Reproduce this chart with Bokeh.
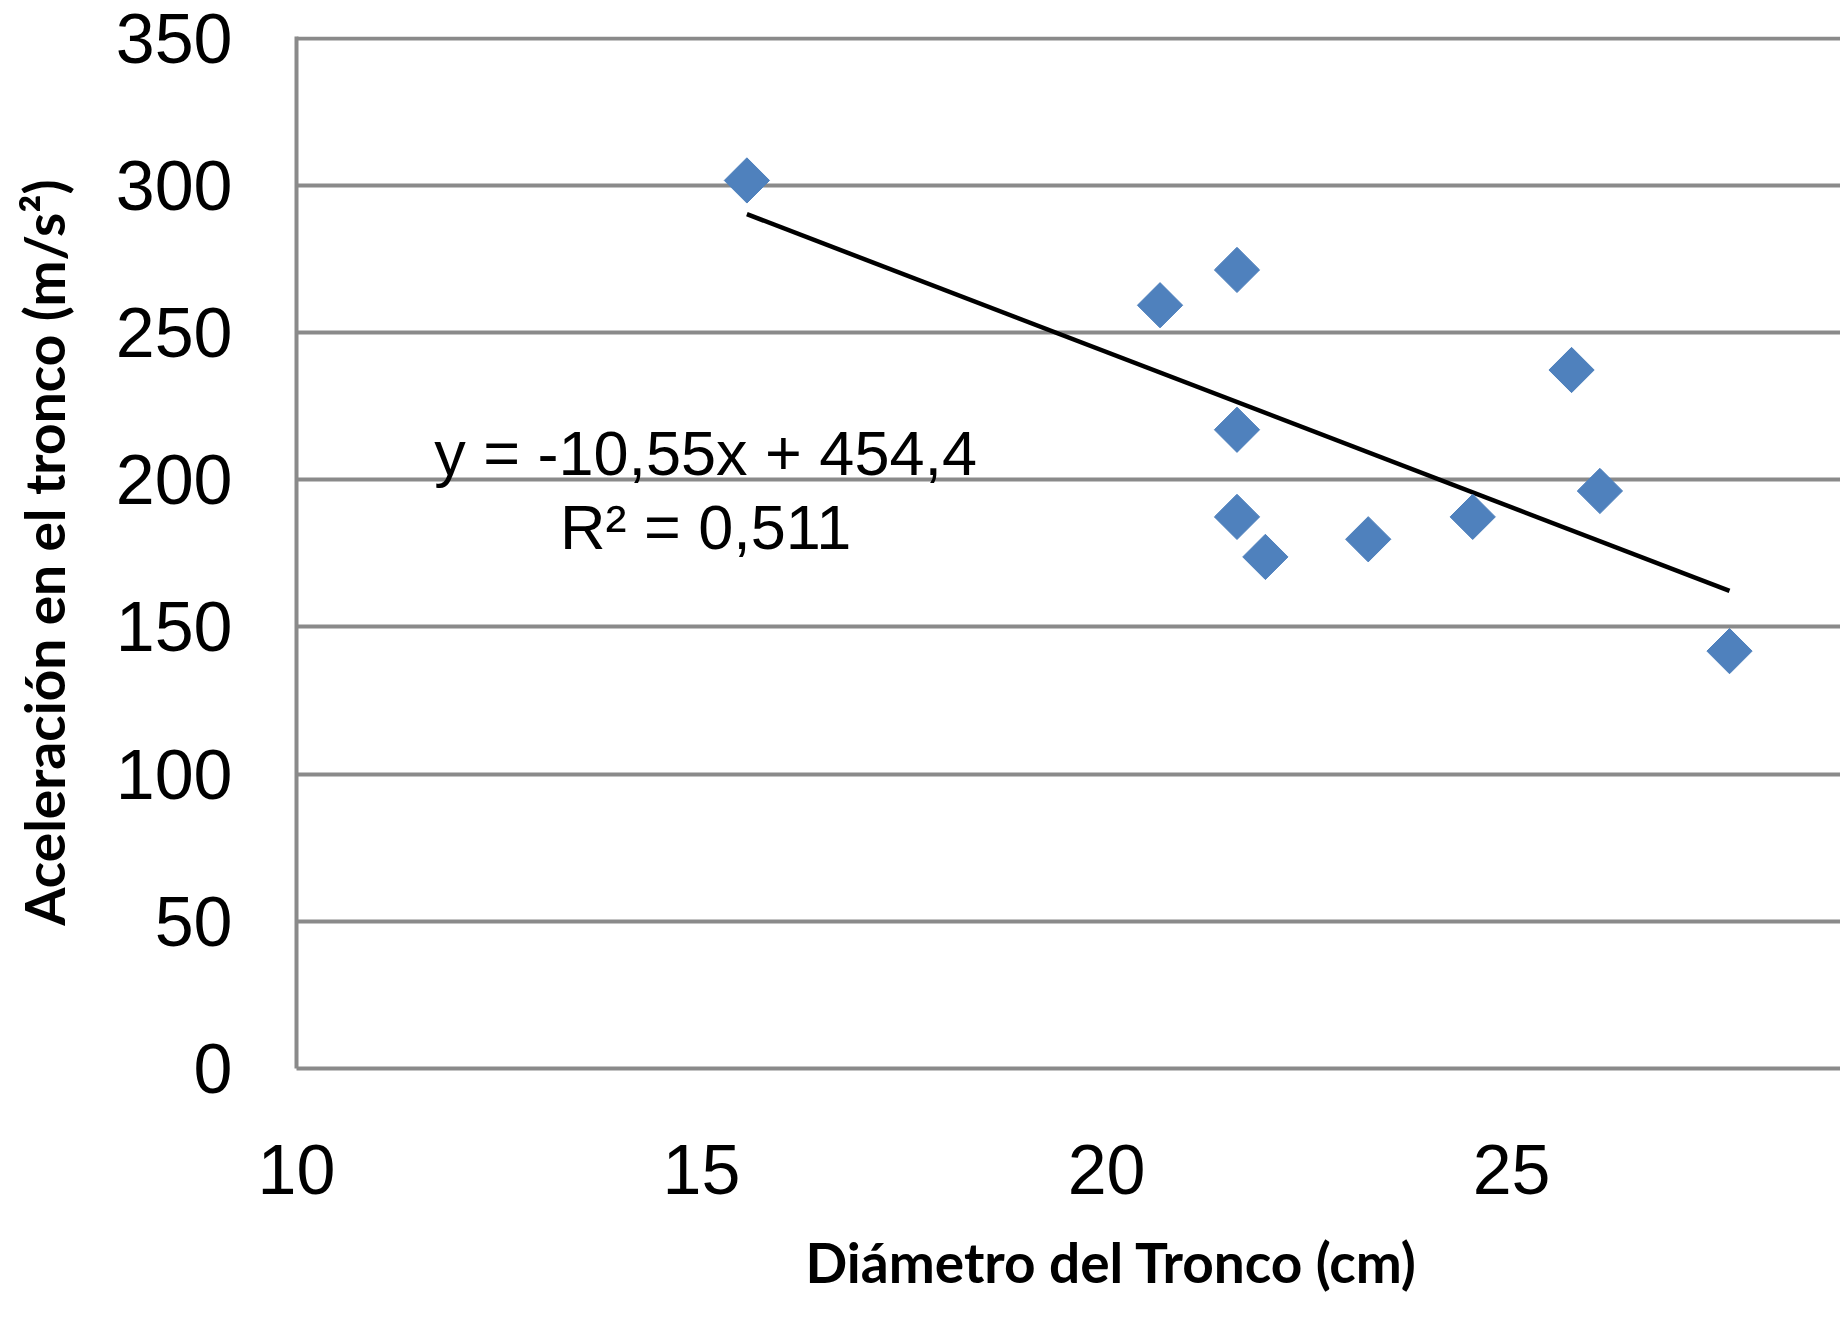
import numpy as np
from bokeh.plotting import figure
from bokeh.models import Range1d, FixedTicker, ColumnDataSource, Title
from bokeh.core.properties import value
from bokeh.embed import file_html
from bokeh.resources import INLINE

# Data
diametro = [15.56, 20.66, 21.61, 21.61, 21.61, 21.96, 23.23, 24.52, 25.74, 26.09, 27.69]
aceleracion = [301.7, 259.3, 271.3, 217.0, 187.4, 173.8, 179.8, 187.4, 237.3, 196.2, 141.8]
pendiente = -10.55
intercepto = 454.4
r2 = 0.511
x_ticks = [10, 15, 20, 25]
y_ticks = [0, 50, 100, 150, 200, 250, 300, 350]
eq_lines = ["y = -10,55x + 454,4", "R² = 0,511"]
x_title = "Diámetro del Tronco (cm)"
y_title = "Aceleración en el tronco (m/s²)"

p = figure(width=1840, height=1324, output_backend="svg", toolbar_location=None,
           x_range=Range1d(10, 29.06), y_range=Range1d(0, 350.6),
           min_border_left=296, min_border_right=0, min_border_top=36, min_border_bottom=254)
p.outline_line_color = None
p.background_fill_color = "white"
p.border_fill_color = "white"

# grid
p.xgrid.grid_line_color = None
p.ygrid.grid_line_color = "#8a8a8a"
p.ygrid.grid_line_width = 4
p.ygrid.ticker = FixedTicker(ticks=y_ticks)

# axes
for ax in (p.xaxis[0], p.yaxis[0]):
    ax.axis_line_color = "#8a8a8a"
    ax.axis_line_width = 4
    ax.major_tick_line_color = None
    ax.minor_tick_line_color = None
    ax.major_tick_in = 0
    ax.major_tick_out = 0
    ax.major_label_text_font = "Liberation Sans"
    ax.major_label_text_color = "black"
    ax.axis_label_text_font = "Lato"
    ax.axis_label_text_font_style = "bold"
    ax.axis_label_text_color = "black"

p.xaxis.ticker = FixedTicker(ticks=x_ticks)
p.yaxis.ticker = FixedTicker(ticks=y_ticks)
p.xaxis.major_label_text_font_size = "70px"
p.yaxis.major_label_text_font_size = "70px"
p.xaxis.major_label_text_line_height = 0.8
p.xaxis.major_label_standoff = 76
p.yaxis.major_label_standoff = 64
p.yaxis.axis_label = y_title
p.yaxis.axis_label_text_font_size = "55px"
p.yaxis.axis_label_standoff = 36

xt = Title(text=x_title, align="left", offset=509,
           text_font="Lato", text_font_style="bold", text_font_size="55px",
           text_line_height=0.8, text_color="black", standoff=60)
p.add_layout(xt, "below")

# trend line from the regression equation
tx = np.array([min(diametro), max(diametro)])
ty = pendiente * tx + intercepto
p.line(tx, ty, line_color="black", line_width=4.5)

# points
src = ColumnDataSource(dict(x=diametro, y=aceleracion))
p.scatter("x", "y", source=src, marker="square", angle=np.pi / 4, size=32,
          fill_color="#4F81BD", line_color="#4F81BD", line_width=1)

# equation text
p.text(x=[15.05, 15.05], y=[209, 184], text=eq_lines,
       text_font=value("Liberation Sans"), text_font_size="63px",
       text_align="center", text_baseline="middle", text_color="black")

open("out.html", "w").write(file_html(p, INLINE))
